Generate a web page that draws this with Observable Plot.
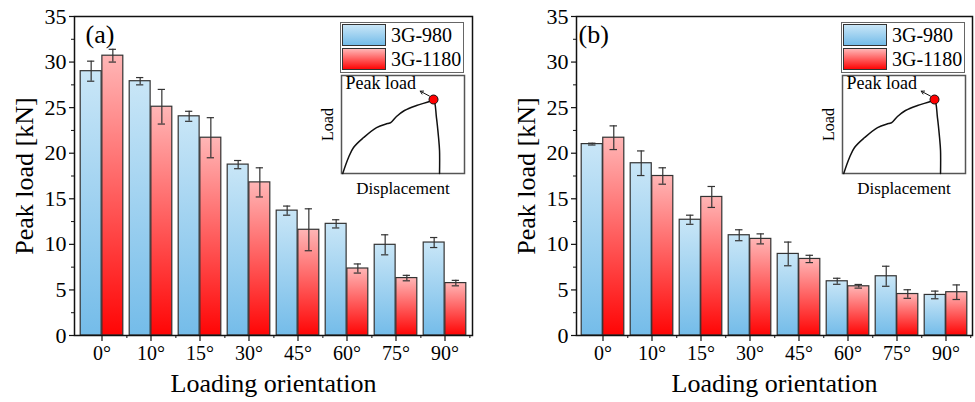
<!DOCTYPE html>
<html>
<head>
<meta charset="utf-8">
<script src="https://cdn.jsdelivr.net/npm/d3@7"></script>
<script src="https://cdn.jsdelivr.net/npm/@observablehq/plot@0.6"></script>
<style>
  body { margin: 0; background: #fff; }
  #root { position: relative; width: 975px; height: 402px; overflow: hidden; font-family: "Liberation Serif", "Times New Roman", serif; color: #000; }
  .abs { position: absolute; }
  .legend { position: absolute; box-sizing: border-box; border: 1.5px solid #666; background: #fff; }
  .legend .row { position: absolute; left: 1px; height: 22px; display: flex; align-items: center; }
  .legend .sw { width: 44px; height: 22px; box-sizing: border-box; border: 1.2px solid #333; }
  .legend .lab { margin-left: 5px; font-size: 20px; line-height: 22px; }
</style>
</head>
<body>
<div id="root"></div>
<script>
// ---------- data ----------
const categories = ["0°", "10°", "15°", "30°", "45°", "60°", "75°", "90°"];
const seriesNames = ["3G-980", "3G-1180"];
const yTicks = [0, 5, 10, 15, 20, 25, 30, 35];
const yMinorTicks = [2.5, 7.5, 12.5, 17.5, 22.5, 27.5, 32.5];

// panel (a)
const a980 = [29.0, 27.9, 24.05, 18.75, 13.7, 12.25, 9.95, 10.2];
const a980Err = [1.1, 0.4, 0.55, 0.45, 0.5, 0.45, 1.1, 0.55];
const a1180 = [30.7, 25.1, 21.7, 16.8, 11.6, 7.35, 6.3, 5.75];
const a1180Err = [0.7, 1.9, 2.2, 1.6, 2.3, 0.5, 0.3, 0.3];

// panel (b)
const b980 = [21.0, 18.9, 12.7, 11.0, 8.95, 5.95, 6.5, 4.45];
const b980Err = [0.1, 1.35, 0.5, 0.6, 1.3, 0.33, 1.1, 0.42];
const b1180 = [21.7, 17.5, 15.2, 10.6, 8.4, 5.4, 4.55, 4.75];
const b1180Err = [1.3, 0.9, 1.15, 0.55, 0.4, 0.2, 0.47, 0.8];

// schematic load-displacement curve for the inset (normalized units)
const insetDisp = [0.01, 0.057, 0.098, 0.18, 0.285, 0.374, 0.40, 0.447, 0.512, 0.61, 0.715, 0.748, 0.772, 0.789, 0.797, 0.797];
const insetLoad = [0.0, 0.163, 0.265, 0.367, 0.469, 0.51, 0.52, 0.582, 0.643, 0.694, 0.735, 0.755, 0.571, 0.367, 0.235, 0.0];
const peakPoint = {d: 0.748, l: 0.755};
const peakArrow = {x1: 0.715, y1: 0.79, x2: 0.64, y2: 0.84};

const yLabel = "Peak load [kN]";
const xLabel = "Loading orientation";

// ---------- styling ----------
const blueTop = "#c9e6f7", blueBottom = "#74bce9";
const redTop = "#ffb6b6", redBottom = "#ff0505";
const font = "Liberation Serif";

const panels = [
  {id: "a", tag: "(a)", left: 0, width: 487, ml: 74, mr: 15, tagDx: 11, legendLeft: 340, insetLeft: 341,
   v980: a980, e980: a980Err, v1180: a1180, e1180: a1180Err},
  {id: "b", tag: "(b)", left: 487, width: 488, ml: 89, mr: 3, tagDx: 2, legendLeft: 841, insetLeft: 842,
   v980: b980, e980: b980Err, v1180: b1180, e1180: b1180Err}
];
const mt = 16, mb = 67, H = 402;

const root = document.getElementById("root");

function addGradient(svg, id, top, bottom) {
  let defs = d3.select(svg).select("defs");
  if (defs.empty()) defs = d3.select(svg).insert("defs", ":first-child");
  const g = defs.append("linearGradient").attr("id", id)
    .attr("x1", 0).attr("y1", 0).attr("x2", 0).attr("y2", 1);
  g.append("stop").attr("offset", "0%").attr("stop-color", top);
  g.append("stop").attr("offset", "100%").attr("stop-color", bottom);
}

for (const p of panels) {
  const data = categories.map((c, i) => ({
    cat: c, v980: p.v980[i], e980: p.e980[i], v1180: p.v1180[i], e1180: p.e1180[i]
  }));
  const bw = (p.width - p.ml - p.mr) / categories.length;
  const pad = 3.2;
  const half = bw / 2;
  const off = (half - pad) / 2;
  const capInset = (bw - 8) / 2;
  const errStyle = {stroke: "#333", strokeWidth: 1.2};

  const svg = Plot.plot({
    width: p.width, height: H,
    marginLeft: p.ml, marginRight: p.mr, marginTop: mt, marginBottom: mb,
    style: {fontFamily: font, fontSize: "20px", color: "#000", background: "transparent", overflow: "visible"},
    x: {domain: categories, padding: 0},
    y: {domain: [0, 35]},
    marks: [
      Plot.barY(data, {x: "cat", y: "v980", fill: `url(#g-${p.id}-980)`, stroke: "#333", strokeWidth: 1.2,
        insetLeft: pad, insetRight: half}),
      Plot.barY(data, {x: "cat", y: "v1180", fill: `url(#g-${p.id}-1180)`, stroke: "#333", strokeWidth: 1.2,
        insetLeft: half, insetRight: pad}),
      Plot.ruleX(data, {x: "cat", y1: d => d.v980 - d.e980, y2: d => d.v980 + d.e980, dx: -off, ...errStyle}),
      Plot.tickY(data, {x: "cat", y: d => d.v980 + d.e980, dx: -off, insetLeft: capInset, insetRight: capInset, ...errStyle}),
      Plot.tickY(data, {x: "cat", y: d => d.v980 - d.e980, dx: -off, insetLeft: capInset, insetRight: capInset, ...errStyle}),
      Plot.ruleX(data, {x: "cat", y1: d => d.v1180 - d.e1180, y2: d => d.v1180 + d.e1180, dx: off, ...errStyle}),
      Plot.tickY(data, {x: "cat", y: d => d.v1180 + d.e1180, dx: off, insetLeft: capInset, insetRight: capInset, ...errStyle}),
      Plot.tickY(data, {x: "cat", y: d => d.v1180 - d.e1180, dx: off, insetLeft: capInset, insetRight: capInset, ...errStyle}),
      Plot.frame({stroke: "#111", strokeWidth: 1.5}),
      Plot.axisY(yTicks, {tickSize: 5, tickPadding: 3, fontSize: 22, label: null, stroke: "#111", strokeWidth: 1.2}),
      Plot.axisY(yMinorTicks, {tickSize: 3, tickFormat: () => "", label: null, stroke: "#111", strokeWidth: 1}),
      Plot.axisX({tickSize: 6, tickPadding: 4, fontSize: 20, label: null, stroke: "#111", strokeWidth: 1.2}),
      Plot.axisX({tickSize: 3, tickFormat: () => "", label: null, dx: half, stroke: "#111", strokeWidth: 1}),
      Plot.text([yLabel], {frameAnchor: "left", dx: -50, rotate: -90, textAnchor: "middle", lineAnchor: "middle", fontSize: 26}),
      Plot.text([xLabel], {frameAnchor: "bottom", dy: 48.5, textAnchor: "middle", lineAnchor: "middle", fontSize: 26}),
      Plot.text([p.tag], {frameAnchor: "top-left", dx: p.tagDx, dy: 18, textAnchor: "start", lineAnchor: "middle", fontSize: 26})
    ]
  });
  addGradient(svg, `g-${p.id}-980`, blueTop, blueBottom);
  addGradient(svg, `g-${p.id}-1180`, redTop, redBottom);
  svg.classList.add("abs");
  svg.style.left = p.left + "px";
  svg.style.top = "0px";
  root.appendChild(svg);

  // legend
  const lg = document.createElement("div");
  lg.className = "legend";
  lg.style.left = p.legendLeft + "px";
  lg.style.top = "22px";
  lg.style.width = "124px";
  lg.style.height = "51px";
  const grads = [[blueTop, blueBottom], [redTop, redBottom]];
  seriesNames.forEach((name, i) => {
    const row = document.createElement("div");
    row.className = "row";
    row.style.top = (1 + i * 24) + "px";
    const sw = document.createElement("div");
    sw.className = "sw";
    sw.style.background = `linear-gradient(to bottom, ${grads[i][0]}, ${grads[i][1]})`;
    const lab = document.createElement("span");
    lab.className = "lab";
    lab.textContent = name;
    row.appendChild(sw);
    row.appendChild(lab);
    lg.appendChild(row);
  });
  root.appendChild(lg);

  // inset schematic
  const curve = insetDisp.map((d, i) => ({d, l: insetLoad[i]}));
  const iml = 22, imr = 2, imt = 1, imb = 28;
  const inset = Plot.plot({
    width: 123 + iml + imr, height: 98 + imt + imb,
    marginLeft: iml, marginRight: imr, marginTop: imt, marginBottom: imb,
    style: {fontFamily: font, color: "#000", background: "transparent", overflow: "visible"},
    x: {domain: [0, 1], axis: null},
    y: {domain: [0, 1], axis: null},
    marks: [
      Plot.frame({stroke: "#555", strokeWidth: 1.5, fill: "white"}),
      Plot.line(curve, {x: "d", y: "l", stroke: "#111", strokeWidth: 1.5, curve: "catmull-rom"}),
      Plot.arrow([peakArrow], {x1: "x1", y1: "y1", x2: "x2", y2: "y2", stroke: "#111", strokeWidth: 1, headLength: 5}),
      Plot.dot([peakPoint], {x: "d", y: "l", r: 4.5, fill: "#ff0000", stroke: "#111", strokeWidth: 1}),
      Plot.text(["Peak load"], {frameAnchor: "top-left", dx: 4, dy: 8, textAnchor: "start", lineAnchor: "middle", fontSize: 18}),
      Plot.text(["Load"], {frameAnchor: "left", dx: -14, rotate: -90, textAnchor: "middle", lineAnchor: "middle", fontSize: 16}),
      Plot.text(["Displacement"], {frameAnchor: "bottom", dy: 15.5, textAnchor: "middle", lineAnchor: "middle", fontSize: 17})
    ]
  });
  inset.classList.add("abs");
  inset.style.left = (p.insetLeft - iml) + "px";
  inset.style.top = (75 - imt) + "px";
  root.appendChild(inset);
}
</script>
</body>
</html>
